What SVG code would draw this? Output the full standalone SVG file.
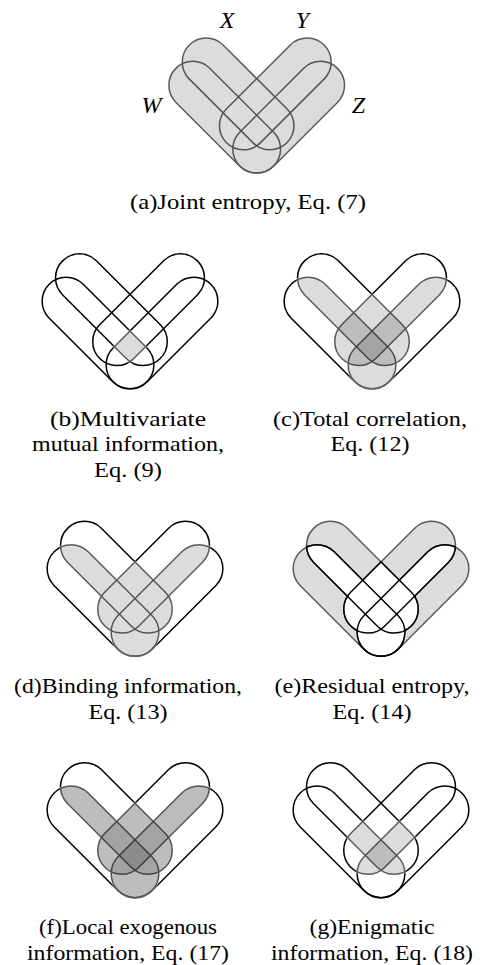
<svg xmlns="http://www.w3.org/2000/svg" xmlns:xlink="http://www.w3.org/1999/xlink" width="483" height="965" viewBox="0 0 483 965">
<style>
.cap{font-family:"Liberation Serif","DejaVu Serif",serif;font-size:22px;text-anchor:middle;fill:#000}
.lbl{font-family:"Liberation Serif","DejaVu Serif",serif;font-style:italic;font-size:24px;text-anchor:middle;fill:#000}
.L{fill:#000;opacity:.133}
.ol{fill:none;stroke:#000;stroke-width:1.5}
.olt{fill:none;stroke:#000;stroke-width:1.5;opacity:.62}
</style>
<defs>
<path id="W" d="M-47.03,-80.97 L16.97,-16.97 A24,24 0 0 1 -16.97,16.97 L-80.97,-47.03 A24,24 0 0 1 -47.03,-80.97 Z"/>
<path id="X" d="M-33.63,-104.27 L30.37,-40.27 A24,24 0 0 1 -3.57,-6.33 L-67.57,-70.33 A24,24 0 0 1 -33.63,-104.27 Z"/>
<path id="Y" d="M33.63,-104.27 L-30.37,-40.27 A24,24 0 0 0 3.57,-6.33 L67.57,-70.33 A24,24 0 0 0 33.63,-104.27 Z"/>
<path id="Z" d="M47.03,-80.97 L-16.97,-16.97 A24,24 0 0 0 16.97,16.97 L80.97,-47.03 A24,24 0 0 0 47.03,-80.97 Z"/>
<clipPath id="cW"><use href="#W"/></clipPath>
<clipPath id="cX"><use href="#X"/></clipPath>
<clipPath id="cY"><use href="#Y"/></clipPath>
<clipPath id="cZ"><use href="#Z"/></clipPath>
<g id="U"><use href="#W"/><use href="#X"/><use href="#Y"/><use href="#Z"/></g>
<g id="G2">
<use href="#X" clip-path="url(#cW)"/><use href="#Y" clip-path="url(#cW)"/><use href="#Z" clip-path="url(#cW)"/>
<use href="#Y" clip-path="url(#cX)"/><use href="#Z" clip-path="url(#cX)"/><use href="#Z" clip-path="url(#cY)"/>
</g>
<g id="G3">
<g clip-path="url(#cW)"><use href="#Y" clip-path="url(#cX)"/><use href="#Z" clip-path="url(#cX)"/><use href="#Z" clip-path="url(#cY)"/></g>
<g clip-path="url(#cX)"><use href="#Z" clip-path="url(#cY)"/></g>
</g>
<g id="G4"><g clip-path="url(#cW)"><g clip-path="url(#cX)"><use href="#Z" clip-path="url(#cY)"/></g></g></g>
<filter id="dil" x="-20%" y="-20%" width="140%" height="140%"><feMorphology operator="dilate" radius="1"/></filter>
<mask id="mU" maskUnits="userSpaceOnUse" x="-150" y="-150" width="300" height="300"><g filter="url(#dil)" fill="#fff"><use href="#U"/></g></mask>
<mask id="m2" maskUnits="userSpaceOnUse" x="-150" y="-150" width="300" height="300"><g filter="url(#dil)" fill="#fff"><use href="#G2"/></g></mask>
<mask id="m2i" maskUnits="userSpaceOnUse" x="-150" y="-150" width="300" height="300"><rect x="-150" y="-150" width="300" height="300" fill="#fff"/><g filter="url(#dil)" fill="#000"><use href="#G2"/></g></mask>
<mask id="m3" maskUnits="userSpaceOnUse" x="-150" y="-150" width="300" height="300"><g filter="url(#dil)" fill="#fff"><use href="#G3"/></g></mask>
<mask id="m3i" maskUnits="userSpaceOnUse" x="-150" y="-150" width="300" height="300"><rect x="-150" y="-150" width="300" height="300" fill="#fff"/><g filter="url(#dil)" fill="#000"><use href="#G3"/></g></mask>
<mask id="m4" maskUnits="userSpaceOnUse" x="-150" y="-150" width="300" height="300"><g filter="url(#dil)" fill="#fff"><use href="#G4"/></g></mask>
<mask id="m4i" maskUnits="userSpaceOnUse" x="-150" y="-150" width="300" height="300"><rect x="-150" y="-150" width="300" height="300" fill="#fff"/><g filter="url(#dil)" fill="#000"><use href="#G4"/></g></mask>
<mask id="m1f" maskUnits="userSpaceOnUse" x="-150" y="-150" width="300" height="300"><use href="#U" fill="#fff"/><use href="#G2" fill="#000"/></mask>
<mask id="m1" maskUnits="userSpaceOnUse" x="-150" y="-150" width="300" height="300"><g filter="url(#dil)"><use href="#U" fill="#fff"/><use href="#G2" fill="#000"/></g></mask>
<mask id="m1i" maskUnits="userSpaceOnUse" x="-150" y="-150" width="300" height="300"><rect x="-150" y="-150" width="300" height="300" fill="#fff"/><g filter="url(#dil)"><use href="#U" fill="#000"/><use href="#G2" fill="#fff"/></g></mask>
</defs>

<g id="panel-a" transform="translate(256.7,149.2)">
<g class="L"><use href="#U"/></g>
<g class="olt"><use href="#U"/></g>
</g>
<g id="labels-a">
<text class="lbl" x="227" y="28">X</text>
<text class="lbl" x="302.5" y="28">Y</text>
<text class="lbl" x="151.5" y="113">W</text>
<text class="lbl" x="358.5" y="113">Z</text>
</g>
<text class="cap" x="248" y="209.4" textLength="236" lengthAdjust="spacingAndGlyphs">(a)Joint entropy, Eq. (7)</text>

<g id="panel-b" transform="translate(130,365)">
<g class="L"><use href="#G4"/></g>
<g mask="url(#m4i)"><use href="#U" class="ol"/></g>
<g mask="url(#m4)"><g class="olt"><use href="#U"/></g></g>
</g>
<text class="cap" x="128" y="425.5" textLength="156" lengthAdjust="spacingAndGlyphs">(b)Multivariate</text>
<text class="cap" x="128" y="451" textLength="192" lengthAdjust="spacingAndGlyphs">mutual information,</text>
<text class="cap" x="128" y="476.5" textLength="68" lengthAdjust="spacingAndGlyphs">Eq. (9)</text>

<g id="panel-c" transform="translate(372,365)">
<g class="L"><use href="#G2"/></g>
<g class="L"><use href="#G3"/></g>
<g class="L"><use href="#G4"/></g>
<g mask="url(#m2i)"><use href="#U" class="ol"/></g>
<g mask="url(#m2)"><g class="olt"><use href="#U"/></g></g>
</g>
<text class="cap" x="370" y="425.5" textLength="194" lengthAdjust="spacingAndGlyphs">(c)Total correlation,</text>
<text class="cap" x="370" y="451" textLength="79" lengthAdjust="spacingAndGlyphs">Eq. (12)</text>

<g id="panel-d" transform="translate(135,632.5)">
<g class="L"><use href="#G2"/></g>
<g mask="url(#m2i)"><use href="#U" class="ol"/></g>
<g mask="url(#m2)"><g class="olt"><use href="#U"/></g></g>
</g>
<text class="cap" x="128" y="693" textLength="228" lengthAdjust="spacingAndGlyphs">(d)Binding information,</text>
<text class="cap" x="128" y="718.5" textLength="79" lengthAdjust="spacingAndGlyphs">Eq. (13)</text>

<g id="panel-e" transform="translate(381,632.5)">
<g class="L" mask="url(#m1f)"><rect x="-150" y="-150" width="300" height="300"/></g>
<g mask="url(#m1i)"><use href="#U" class="ol"/></g>
<g mask="url(#m1)"><g class="olt"><use href="#U"/></g></g>
</g>
<text class="cap" x="372" y="693" textLength="195" lengthAdjust="spacingAndGlyphs">(e)Residual entropy,</text>
<text class="cap" x="372" y="718.5" textLength="79" lengthAdjust="spacingAndGlyphs">Eq. (14)</text>

<g id="panel-f" transform="translate(135,873.8)">
<g class="L"><use href="#G2"/></g>
<g class="L"><use href="#G2"/></g>
<g class="L"><use href="#G3"/></g>
<g class="L"><use href="#G4"/></g>
<g mask="url(#m2i)"><use href="#U" class="ol"/></g>
<g mask="url(#m2)"><g class="olt"><use href="#U"/></g></g>
</g>
<text class="cap" x="128" y="934" textLength="178" lengthAdjust="spacingAndGlyphs">(f)Local exogenous</text>
<text class="cap" x="128" y="959.5" textLength="202" lengthAdjust="spacingAndGlyphs">information, Eq. (17)</text>

<g id="panel-g" transform="translate(381,873.8)">
<g class="L"><use href="#G3"/></g>
<g class="L"><use href="#G4"/></g>
<g mask="url(#m3i)"><use href="#U" class="ol"/></g>
<g mask="url(#m3)"><g class="olt"><use href="#U"/></g></g>
</g>
<text class="cap" x="372" y="934" textLength="125" lengthAdjust="spacingAndGlyphs">(g)Enigmatic</text>
<text class="cap" x="372" y="959.5" textLength="202" lengthAdjust="spacingAndGlyphs">information, Eq. (18)</text>
</svg>
